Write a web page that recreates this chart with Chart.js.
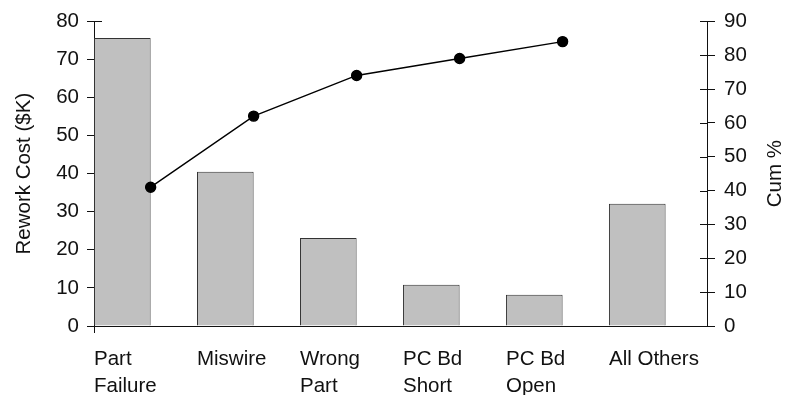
<!DOCTYPE html>
<html>
<head>
<meta charset="utf-8">
<script src="https://cdn.jsdelivr.net/npm/chart.js@4"></script>
<style>
  html, body { margin: 0; padding: 0; background: #fff; }
  #wrap { width: 786px; height: 395px; }
</style>
</head>
<body>
<div id="wrap"><canvas id="pareto" width="786" height="395"></canvas></div>
<script>
// category labels (multi-line as in the picture)
const categories = [['Part', 'Failure'], ['Miswire'], ['Wrong', 'Part'], ['PC Bd', 'Short'], ['PC Bd', 'Open'], ['All Others']];
// rework cost per category, $K (left axis)
const reworkCost = [75.6, 40.5, 23.1, 10.8, 8.2, 32.1];
// cumulative percent (right axis), no point for "All Others"
const cumPercent = [41, 62, 74, 79, 84];
const leftTicks = [0, 10, 20, 30, 40, 50, 60, 70, 80];
const rightTicks = [0, 10, 20, 30, 40, 50, 60, 70, 80, 90];

const BAR_W = 0.55;          // bar width in category units
const HALF = BAR_W / 2;
const FONT = { family: '"Liberation Sans", Arial, sans-serif', size: 20.5 };
const INK = '#111';

// bars sit on integer x; cum points sit on each bar's right edge
const barData = reworkCost.map((v, i) => ({ x: i, y: v }));
const lineData = cumPercent.map((v, i) => ({ x: i + HALF, y: v }));

const axisExtras = {
    id: 'axisExtras',
    afterDraw(chart) {
        const { ctx, chartArea: a, scales } = chart;
        ctx.save();
        ctx.strokeStyle = INK;
        ctx.lineWidth = 1;
        ctx.beginPath();
        // right axis ticks cross into the plot too
        rightTicks.forEach(t => {
            const y = Math.round(scales.y1.getPixelForValue(t)) + 0.5;
            ctx.moveTo(a.right - 7, y); ctx.lineTo(a.right, y);
        });
        // top tick on left axis crosses the axis
        const yTop = Math.round(scales.y.getPixelForValue(80)) + 0.5;
        ctx.moveTo(a.left, yTop); ctx.lineTo(a.left + 8, yTop);
        // left axis runs a bit below the baseline
        ctx.moveTo(a.left + 0.5, a.bottom); ctx.lineTo(a.left + 0.5, a.bottom + 7);
        ctx.stroke();

        // right axis title reads bottom-to-top like the left one
        ctx.fillStyle = INK;
        ctx.font = `${FONT.size}px ${FONT.family}`;
        ctx.textAlign = 'center';
        ctx.textBaseline = 'middle';
        ctx.translate(chart.width - 11, (a.top + a.bottom) / 2);
        ctx.rotate(-Math.PI / 2);
        ctx.fillText('Cum %', 0, 0);
        ctx.restore();
    }
};

new Chart(document.getElementById('pareto'), {
    data: {
        datasets: [
            {
                type: 'line',
                data: lineData,
                yAxisID: 'y1',
                borderColor: '#000',
                borderWidth: 1.4,
                pointRadius: 5,
                pointBackgroundColor: '#000',
                pointBorderColor: '#000',
                tension: 0,
                order: 0
            },
            {
                type: 'bar',
                data: barData,
                yAxisID: 'y',
                backgroundColor: '#c0c0c0',
                borderColor: '#333',
                borderWidth: 1,
                categoryPercentage: 1,
                barPercentage: BAR_W,
                order: 1
            }
        ]
    },
    options: {
        responsive: false,
        animation: false,
        layout: { padding: { top: 20, left: 0, right: 0, bottom: 0 } },
        plugins: { legend: { display: false }, tooltip: { enabled: false } },
        scales: {
            x: {
                type: 'linear',
                offset: false,
                bounds: 'data',
                min: -HALF,
                max: 5.677,
                grid: { display: false, offset: false },
                border: { display: true, color: INK, width: 1 },
                afterBuildTicks: s => { s.ticks = categories.map((c, i) => ({ value: i - HALF })); },
                afterFit: s => { s.height = 69; },
                ticks: {
                    autoSkip: false,
                    maxRotation: 0,
                    align: 'start',
                    padding: 12,
                    color: INK,
                    font: { ...FONT, lineHeight: 1.3 },
                    callback: (v, i) => categories[i]
                }
            },
            y: {
                position: 'left',
                min: 0,
                max: 80,
                afterBuildTicks: s => { s.ticks = leftTicks.map(v => ({ value: v })); },
                afterFit: s => { s.width = 94; },
                grid: { drawOnChartArea: false, tickLength: 7, color: INK },
                border: { display: true, color: INK, width: 1 },
                ticks: { color: INK, font: FONT, padding: 8 },
                title: {
                    display: true,
                    text: 'Rework Cost ($K)',
                    color: INK,
                    font: FONT,
                    padding: { top: 12, bottom: 0 }
                }
            },
            y1: {
                position: 'right',
                min: 0,
                max: 90,
                afterBuildTicks: s => { s.ticks = rightTicks.map(v => ({ value: v })); },
                afterFit: s => { s.width = 79; },
                grid: { drawOnChartArea: false, tickLength: 8, color: INK },
                border: { display: true, color: INK, width: 1 },
                ticks: { color: INK, font: FONT, padding: 9 }
            }
        }
    },
    plugins: [axisExtras]
});
</script>
</body>
</html>
